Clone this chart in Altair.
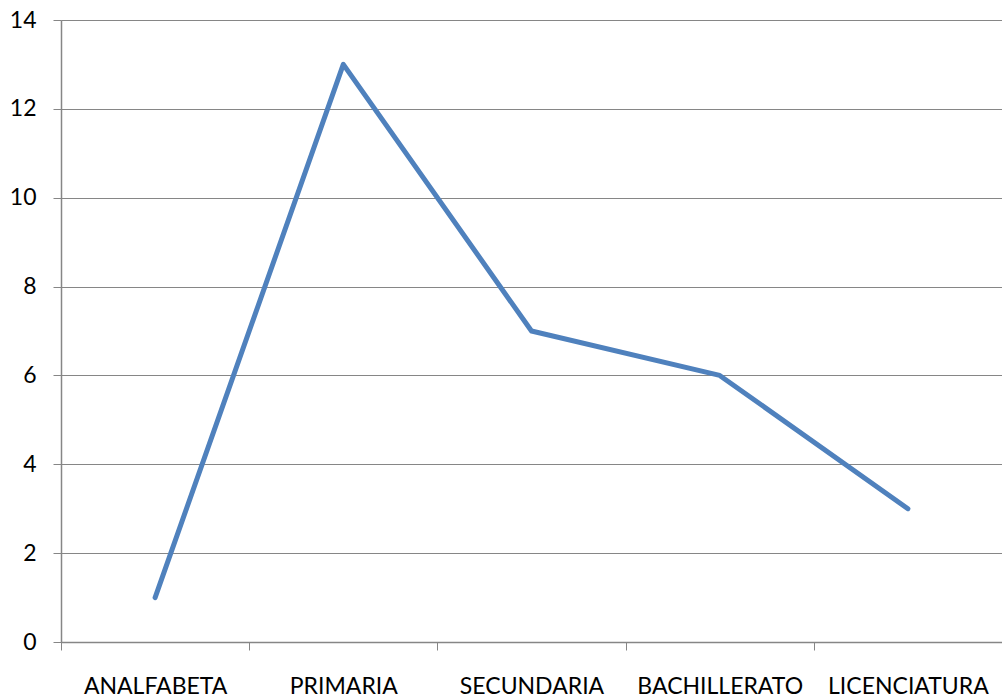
import altair as alt
import pandas as pd

categories = ["ANALFABETA", "PRIMARIA", "SECUNDARIA", "BACHILLERATO", "LICENCIATURA"]
values = [1, 13, 7, 6, 3]
y_ticks = [0, 2, 4, 6, 8, 10, 12, 14]

df = pd.DataFrame({"nivel": categories, "valor": values})

grid_color = "#868686"
font = "Lato"

chart = (
    alt.Chart(df)
    .mark_line(color="#4F81BD", strokeWidth=5, strokeCap="round", strokeJoin="round")
    .encode(
        x=alt.X(
            "nivel:N",
            sort=categories,
            title=None,
            scale=alt.Scale(type="band", paddingInner=0, paddingOuter=0),
            axis=alt.Axis(
                labelAngle=0,
                labelFontSize=23,
                labelFont=font,
                labelColor="black",
                labelPadding=25,
                tickBand="extent",
                tickSize=8,
                tickColor=grid_color,
                domainColor=grid_color,
                domainWidth=1.5,
                grid=False,
            ),
        ),
        y=alt.Y(
            "valor:Q",
            title=None,
            scale=alt.Scale(domain=[0, 14], nice=False, zero=True),
            axis=alt.Axis(
                values=y_ticks,
                labelFontSize=23,
                labelFont=font,
                labelColor="black",
                labelPadding=17,
                tickSize=8,
                tickColor=grid_color,
                domainColor=grid_color,
                domainWidth=1.5,
                gridColor=grid_color,
                gridWidth=1.2,
                gridOpacity=1,
            ),
        ),
    )
    .properties(
        width=941,
        height=622,
        autosize=alt.AutoSizeParams(type="none"),
        padding={"left": 61, "top": 20, "right": 0, "bottom": 58},
    )
    .configure_view(stroke=None)
    .configure(background="white")
)

chart.save("out.html", embed_options={"renderer": "svg", "actions": False})
